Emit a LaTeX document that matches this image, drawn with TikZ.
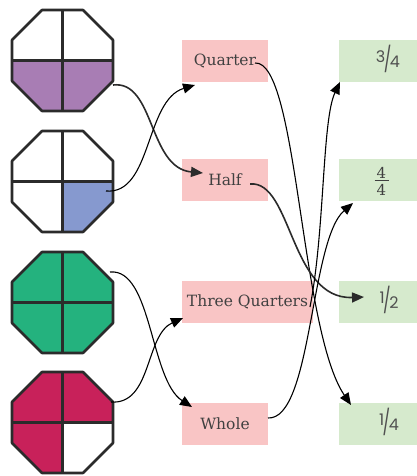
\documentclass[tikz,border=0pt]{standalone}
\usepackage{fontspec}
\usepackage{graphicx}
\setmainfont{DejaVu Serif}
\newfontfamily\fracfont{Poppins}
\usetikzlibrary{arrows.meta}
\definecolor{pinkbox}{HTML}{F9C5C5}
\definecolor{greenbox}{HTML}{D6EACD}
\definecolor{octpurple}{HTML}{A87DB4}
\definecolor{octblue}{HTML}{8699CF}
\definecolor{octgreen}{HTML}{24B27E}
\definecolor{octred}{HTML}{C8215A}
\definecolor{octedge}{HTML}{2B2B2B}
\definecolor{txtgray}{HTML}{404040}
\definecolor{fracgray}{HTML}{505050}
\newcommand\octagonpic[6]{%
\begin{scope}[shift={(#1,#2)}]
\begin{scope}
\clip (-20.5,-50.5) -- (20.5,-50.5) -- (50.5,-20.5) -- (50.5,20.5) -- (20.5,50.5) -- (-20.5,50.5) -- (-50.5,20.5) -- (-50.5,-20.5) -- cycle;
\fill[#3] (-52,-52) rectangle (0,0);
\fill[#4] (0,-52) rectangle (52,0);
\fill[#5] (-52,0) rectangle (0,52);
\fill[#6] (0,0) rectangle (52,52);
\end{scope}
\draw[octline] (0,-50.5) -- (0,50.5) (-50.5,0) -- (50.5,0);
\draw[octline] (-20.5,-50.5) -- (20.5,-50.5) -- (50.5,-20.5) -- (50.5,20.5) -- (20.5,50.5) -- (-20.5,50.5) -- (-50.5,20.5) -- (-50.5,-20.5) -- cycle;
\end{scope}}
\newcommand\slantfrac[2]{{\fracfont\raisebox{0.5em}{\fontsize{16}{16}\selectfont #1}\kern-0.15em\raisebox{-0.12em}{\scalebox{1}[1.55]{\fontsize{16}{16}\selectfont /}}\kern-0.15em{\fontsize{16}{16}\selectfont #2}}}
\begin{document}
\begin{tikzpicture}[x=1pt,y=-1pt,
  octline/.style={draw=octedge,line width=2.6pt,line join=round},
  pinkb/.style={fill=pinkbox,minimum height=42pt,inner sep=0pt,text=txtgray,font=\fontsize{15.5}{16}\selectfont},
  greenb/.style={fill=greenbox,minimum height=42pt,minimum width=86pt,inner sep=0pt},
  fractxt/.style={text=fracgray,inner sep=0pt},
  stackdigit/.style={text=txtgray,inner sep=0pt,font=\fontsize{15}{15}\selectfont},
  conn/.style={-{Triangle[length=12pt,width=10pt]},line width=1.1pt,black},
  conng/.style={-{Triangle[length=12pt,width=10pt]},line width=1.6pt,draw=octedge}]
\useasboundingbox (0,0) rectangle (417,476);
\fill[white] (0,0) rectangle (417,476);
% octagons
\octagonpic{62.5}{60.5}{white}{white}{octpurple}{octpurple}
\octagonpic{62.5}{181.5}{white}{white}{white}{octblue}
\octagonpic{62.5}{302.5}{octgreen}{octgreen}{octgreen}{octgreen}
\octagonpic{62.5}{422.5}{octred}{octred}{octred}{white}
% word boxes
\node[pinkb,minimum width=86pt] (q) at (225,61) {Quarter};
\node[pinkb,minimum width=86pt] (h) at (225,180) {Half};
\node[pinkb,minimum width=131pt] (tq) at (247.5,302) {Three Quarters};
\node[pinkb,minimum width=86pt] (w) at (225,423.5) {Whole};
% fraction boxes
\node[greenb] (f34) at (382,61) {};
\node[greenb] (f44) at (382,180) {};
\node[greenb] (f12) at (382,302) {};
\node[greenb] (f14) at (382,423.5) {};
\node[fractxt] (t34) at (388,59) {\slantfrac{3}{4}};
\node[stackdigit] (t44n) at (381.5,172.5) {4};
\node[stackdigit] (t44d) at (381.5,189.5) {4};
\draw[txtgray,line width=1pt] (374.5,180.8) -- (388.5,180.8);
\node[fractxt] (t12) at (389,300) {\slantfrac{1}{2}};
\node[fractxt] (t14) at (389,422) {\slantfrac{1}{4}};
% connector end points
\coordinate (o1) at (113,85);
\coordinate (o2) at (106,191);
\coordinate (o3) at (110,272);
\coordinate (o4) at (111,402);
\coordinate (hIn) at (203,173);
\coordinate (qIn) at (195,85);
\coordinate (wIn) at (192,407);
\coordinate (tqIn) at (183,318);
\coordinate (qOut) at (255,63);
\coordinate (hOut) at (250,184);
\coordinate (tqOut) at (310,307);
\coordinate (wOut) at (268,418);
\coordinate (f14In) at (351,405);
\coordinate (f12In) at (364,297);
\coordinate (f34In) at (340,82);
\coordinate (f44In) at (353,203);
% connectors
\draw[conng] (o1) .. controls (155,80) and (148,168) .. (hIn);
\draw[conn] (o2) .. controls (152,195) and (145,100) .. (qIn);
\draw[conn] (o3) .. controls (152,268) and (150,380) .. (wIn);
\draw[conn] (o4) .. controls (152,405) and (145,335) .. (tqIn);
\draw[conn] (qOut) .. controls (298,60) and (300,330) .. (f14In);
\draw[conng] (hOut) .. controls (292,180) and (290,300) .. (f12In);
\draw[conn] (tqOut) .. controls (325,230) and (322,120) .. (f34In);
\draw[conn] (wOut) .. controls (312,420) and (310,240) .. (f44In);
\end{tikzpicture}
\end{document}
